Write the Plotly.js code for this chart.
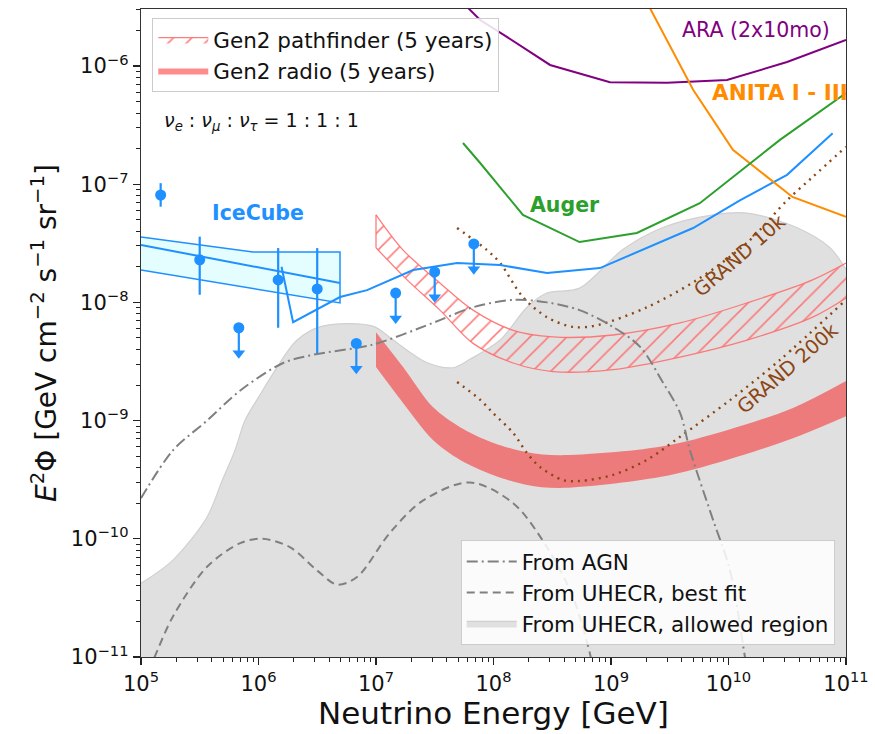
<!DOCTYPE html>
<html>
<head>
<meta charset="utf-8">
<script src="https://cdn.plot.ly/plotly-3.0.1.min.js"></script>
<style>
html,body{margin:0;padding:0;background:#fff;}
#chart{width:875px;height:734px;}
</style>
</head>
<body>
<div id="chart"></div>
<script>
// ---------------- data ----------------
// UHECR allowed region (upper boundary)
const regionE    = [1e5, 1.87e5, 3.65e5, 4.9e5, 6.3e5, 7.7e5, 1.03e6, 1.33e6, 2.13e6, 3.5e6, 9.4e6, 1.4e7, 2.7e7, 4.5e7, 6.3e7, 1.14e8, 1.93e8, 2.85e8, 5.4e8, 1.26e9, 2.77e9, 7.4e9, 1.44e10, 3.8e10, 7.3e10, 1e11];
const regionFlux = [4.2e-11, 6.6e-11, 1.53e-10, 3.1e-10, 5.6e-10, 1.01e-9, 1.65e-9, 2.5e-9, 4.8e-9, 6.3e-9, 6.3e-9, 4.8e-9, 3.1e-9, 2.8e-9, 3.3e-9, 4.8e-9, 9.1e-9, 1.2e-8, 1.32e-8, 2.8e-8, 4.3e-8, 5.5e-8, 5.7e-8, 4.3e-8, 2.9e-8, 1.9e-8];
const REGION_FLOOR = 1e-12;

// From AGN (dash-dot)
const agnE    = [1e5, 1.87e5, 3.65e5, 7.0e5, 1.62e6, 2.9e6, 9.4e6, 3.05e7, 6.7e7, 1.47e8, 2.85e8, 5.4e8, 1.04e9, 1.77e9, 2.77e9, 3.87e9, 4.7e9, 7.4e9, 1.03e10, 1.38e10, 1.5e10];
const agnFlux = [2.2e-10, 5.6e-10, 1.0e-9, 1.8e-9, 3.07e-9, 3.6e-9, 4.4e-9, 6.7e-9, 9.1e-9, 1.05e-8, 1.0e-8, 8.6e-9, 6.2e-9, 4.2e-9, 2.1e-9, 1.16e-9, 5.6e-10, 1.44e-10, 5.4e-11, 1.0e-11, 6e-12];

// From UHECR, best fit (dashed)
const uhecrE    = [1.17e5, 1.27e5, 1.87e5, 3.65e5, 7.0e5, 1.09e6, 1.85e6, 3.15e6, 4.66e6, 6.9e6, 1.31e7, 2.5e7, 6.3e7, 1.47e8, 2.85e8, 4.75e8, 6.6e8, 7e8];
const uhecrFlux = [7.9e-12, 9.4e-12, 2.2e-11, 5.8e-11, 9.2e-11, 1.0e-10, 8.5e-11, 5.4e-11, 4.1e-11, 4.75e-11, 1.12e-10, 2.1e-10, 3.0e-10, 2.0e-10, 8.5e-11, 3.2e-11, 1.08e-11, 8e-12];

// Gen2 pathfinder (5 years) band
const pathUpperE = [1e7, 1.7e7, 3.5e7, 6.7e7, 1.47e8, 3.2e8, 1.04e9, 3.87e9, 1.44e10, 5.2e10, 1e11];
const pathUpper  = [5.5e-8, 2.77e-8, 1.46e-8, 8.6e-9, 5.8e-9, 5.1e-9, 5.3e-9, 6.7e-9, 9.9e-9, 1.55e-8, 2.15e-8];
const pathLowerE = [1e7, 1.84e7, 3.5e7, 6.7e7, 1.47e8, 3.2e8, 1.04e9, 3.87e9, 1.44e10, 5.2e10, 1e11];
const pathLower  = [2.9e-8, 1.55e-8, 8.6e-9, 4.5e-9, 3.07e-9, 2.6e-9, 2.7e-9, 3.45e-9, 4.8e-9, 7.5e-9, 1.09e-8];

// Gen2 radio (5 years) band
const radioE     = [1e7, 1.7e7, 3.05e7, 5.2e7, 9.9e7, 1.93e8, 3.68e8, 2.61e9, 9.7e9, 3.54e10, 1e11];
const radioUpper = [5.6e-9, 2.84e-9, 1.30e-9, 8.8e-10, 6.5e-10, 5.4e-10, 5.1e-10, 6.0e-10, 8.3e-10, 1.28e-9, 2.16e-9];
const radioLower = [2.84e-9, 1.41e-9, 6.85e-10, 4.65e-10, 3.47e-10, 2.85e-10, 2.69e-10, 3.33e-10, 4.65e-10, 7.1e-10, 1.09e-9];

// GRAND
const grand10kE = [4.9e7, 8.8e7, 1.14e8, 1.78e8, 2.85e8, 4.75e8, 7.6e8, 2.02e9, 5.4e9, 1.44e10, 3.15e10, 5.2e10, 1e11];
const grand10k  = [4.26e-8, 2.77e-8, 2.15e-8, 1.11e-8, 7.5e-9, 6.2e-9, 6.4e-9, 9.1e-9, 1.55e-8, 3.2e-8, 7.3e-8, 1.15e-7, 2.07e-7];
const grand200kE = [4.9e7, 7.7e7, 9.9e7, 1.47e8, 1.93e8, 2.49e8, 3.9e8, 5.4e8, 1.04e9, 2.02e9, 3.87e9, 1.03e10, 2.74e10, 1e11];
const grand200k  = [2.12e-9, 1.5e-9, 1.16e-9, 7.85e-10, 5.3e-10, 4.05e-10, 3.14e-10, 3.08e-10, 3.47e-10, 4.65e-10, 7.3e-10, 1.49e-9, 3.26e-9, 1.05e-8];

// IceCube UHE limit
const iceLimitE = [1.57e6, 1.97e6, 4.94e6, 8.4e6, 2.07e7, 4.9e7, 1.14e8, 2.85e8, 8.05e8, 5.0e9, 1.25e10, 3.15e10, 7.7e10];
const iceLimit  = [2.0e-8, 6.8e-9, 1.11e-8, 1.27e-8, 1.88e-8, 2.15e-8, 2.07e-8, 1.77e-8, 1.95e-8, 4.26e-8, 7.3e-8, 1.2e-7, 2.7e-7];

// IceCube segmented fit box and central line
const iceBoxE    = [1e5, 8.98e5, 4.94e6, 4.94e6, 1e5];
const iceBoxFlux = [3.57e-8, 2.67e-8, 2.67e-8, 9.9e-9, 1.88e-8];
const iceFitE    = [1e5, 4.94e6];
const iceFitFlux = [3.06e-8, 1.46e-8];

// IceCube measured points
const iceE    = [1.47e5, 3.16e5, 1.47e6, 3.16e6];
const iceFlux = [8.1e-8, 2.29e-8, 1.55e-8, 1.30e-8];
const iceHi   = [1.02e-7, 3.6e-8, 2.88e-8, 2.88e-8];
const iceLo   = [6.45e-8, 1.16e-8, 6.1e-9, 3.7e-9];

// IceCube upper limits
const ulE    = [6.8e5, 6.8e6, 1.47e7, 3.16e7, 6.8e7];
const ulFlux = [6.1e-9, 4.5e-9, 1.2e-8, 1.81e-8, 3.12e-8];

// ARA, ANITA, Auger
const araE    = [5.7e7, 7.7e7, 1.3e8, 3.03e8, 9.8e8, 3.0e9, 9.7e9, 3.15e10, 1e11];
const araFlux = [3.3e-6, 2.45e-6, 1.76e-6, 1.02e-6, 7.3e-7, 7.2e-7, 7.6e-7, 1.08e-6, 1.66e-6];
const anitaE    = [2.07e9, 5.0e9, 1.09e10, 3.5e10, 1e11];
const anitaFlux = [3.3e-6, 6.3e-7, 1.95e-7, 7.8e-8, 5.3e-8];
const augerE    = [5.5e7, 7.7e7, 1.78e8, 5.4e8, 1.66e9, 5.7e9, 2.74e10, 1e11];
const augerFlux = [2.23e-7, 1.51e-7, 5.5e-8, 3.24e-8, 3.87e-8, 6.9e-8, 2.37e-7, 5.9e-7];

// tick labels
const xTickVals = [1e5, 1e6, 1e7, 1e8, 1e9, 1e10, 1e11];
const xTickText = ['10<sup>5</sup>','10<sup>6</sup>','10<sup>7</sup>','10<sup>8</sup>','10<sup>9</sup>','10<sup>10</sup>','10<sup>11</sup>'];
const yTickVals = [1e-11, 1e-10, 1e-9, 1e-8, 1e-7, 1e-6];
const yTickText = ['10<sup>−11</sup>','10<sup>−10</sup>','10<sup>−9</sup>','10<sup>−8</sup>','10<sup>−7</sup>','10<sup>−6</sup>'];

// ---------------- styles ----------------
const FONT = 'DejaVu Sans, Verdana, sans-serif';
const BLUE = '#1e90ff';
const GRAY = '#808080';
const BROWN = '#8b4513';
const PINK = 'rgba(255,110,110,0.9)';
const ARROW_FACTOR = 0.61;
const SPL = { shape: 'spline', smoothing: 0.9 };

function minorVals(lo, hi) {
  const v = [];
  for (let k = lo; k < hi; k++) for (let m = 2; m <= 9; m++) v.push(m * Math.pow(10, k));
  return v;
}

const traces = [];

// allowed region: floor + upper boundary filled to it
traces.push({
  x: [regionE[0], regionE[regionE.length - 1]], y: [REGION_FLOOR, REGION_FLOOR],
  mode: 'lines', line: { width: 0, color: 'rgba(0,0,0,0)' }, showlegend: false, hoverinfo: 'skip'
});
traces.push({
  x: regionE, y: regionFlux, mode: 'lines', fill: 'tonexty', fillcolor: '#e0e0e0',
  line: Object.assign({ color: '#d0d0d0', width: 1.2 }, SPL),
  name: 'From UHECR, allowed region', legend: 'legend2', legendrank: 3, legendgroup: 'r3',
  hoverinfo: 'skip'
});

// Gen2 radio band
traces.push({
  x: radioE, y: radioLower, mode: 'lines',
  line: Object.assign({ width: 0, color: 'rgba(0,0,0,0)' }, SPL), showlegend: false, hoverinfo: 'skip'
});
traces.push({
  x: radioE, y: radioUpper, mode: 'lines', fill: 'tonexty',
  fillcolor: 'rgba(255,0,0,0.45)', line: Object.assign({ width: 0, color: 'rgba(255,0,0,0.45)' }, SPL),
  name: 'Gen2 radio (5 years)', legend: 'legend', legendrank: 2, legendgroup: 'p2'
});

// Gen2 pathfinder band (hatched)
traces.push({
  x: pathLowerE, y: pathLower, mode: 'lines',
  line: Object.assign({ width: 1.3, color: PINK }, SPL), showlegend: false, hoverinfo: 'skip'
});
traces.push({
  x: pathUpperE, y: pathUpper, mode: 'lines', fill: 'tonexty',
  fillcolor: 'rgba(0,0,0,0)',
  fillpattern: { shape: '/', fgcolor: PINK, bgcolor: 'rgba(0,0,0,0)', size: 13, solidity: 0.12 },
  line: Object.assign({ width: 1.3, color: PINK }, SPL),
  name: 'Gen2 pathfinder (5 years)', legend: 'legend', legendrank: 1, legendgroup: 'p1'
});
traces.push({
  x: [pathUpperE[0], pathLowerE[0]], y: [pathUpper[0], pathLower[0]], mode: 'lines',
  line: { width: 1.3, color: PINK }, showlegend: false, hoverinfo: 'skip'
});

// GRAND lines
traces.push({ x: grand10kE, y: grand10k, mode: 'lines', line: Object.assign({ color: BROWN, width: 2.4, dash: '2px,5px' }, SPL), showlegend: false });
traces.push({ x: grand200kE, y: grand200k, mode: 'lines', line: Object.assign({ color: BROWN, width: 2.4, dash: '2px,5px' }, SPL), showlegend: false });

// AGN
traces.push({
  x: agnE, y: agnFlux, mode: 'lines',
  line: Object.assign({ color: GRAY, width: 2, dash: '11px,4px,2px,4px' }, SPL),
  name: 'From AGN', legend: 'legend2', legendrank: 1, legendgroup: 'r1'
});
// UHECR best fit
traces.push({
  x: uhecrE, y: uhecrFlux, mode: 'lines',
  line: Object.assign({ color: GRAY, width: 2, dash: '8px,5px' }, SPL),
  name: 'From UHECR, best fit', legend: 'legend2', legendrank: 2, legendgroup: 'r2'
});

// IceCube fit box
traces.push({
  x: iceBoxE, y: iceBoxFlux, mode: 'lines', fill: 'toself', fillcolor: 'rgba(225,253,255,0.9)',
  line: { color: BLUE, width: 1.5 }, showlegend: false
});
traces.push({ x: iceFitE, y: iceFitFlux, mode: 'lines', line: { color: BLUE, width: 2 }, showlegend: false });

// IceCube UHE limit line
traces.push({ x: iceLimitE, y: iceLimit, mode: 'lines', line: { color: BLUE, width: 2 }, showlegend: false });

// IceCube data points
traces.push({
  x: iceE, y: iceFlux, mode: 'markers',
  marker: { color: BLUE, size: 11 },
  error_y: {
    type: 'data', symmetric: false,
    array: iceHi.map((h, i) => h - iceFlux[i]),
    arrayminus: iceLo.map((l, i) => iceFlux[i] - l),
    color: BLUE, thickness: 2.2, width: 0
  },
  showlegend: false
});
// upper limits: circle + shaft + arrowhead
traces.push({
  x: ulE, y: ulFlux, mode: 'markers',
  marker: { color: BLUE, size: 11 },
  error_y: {
    type: 'data', symmetric: false,
    array: ulFlux.map(() => 0),
    arrayminus: ulFlux.map(f => f * (1 - ARROW_FACTOR)),
    color: BLUE, thickness: 2.2, width: 0
  },
  showlegend: false
});
traces.push({
  x: ulE, y: ulFlux.map(f => f * ARROW_FACTOR), mode: 'markers',
  marker: { color: BLUE, size: 11, symbol: 'triangle-down' }, showlegend: false
});

// ARA, ANITA, Auger
traces.push({ x: araE, y: araFlux, mode: 'lines', line: { color: '#800080', width: 2 }, showlegend: false });
traces.push({ x: anitaE, y: anitaFlux, mode: 'lines', line: { color: '#ff8c00', width: 2 }, showlegend: false });
traces.push({ x: augerE, y: augerFlux, mode: 'lines', line: { color: '#2ca02c', width: 2 }, showlegend: false });

// ANITA label (clipped at the frame)
const anitaLabel = { E: 7.25e9, F: 5.7e-7 };
traces.push({
  x: [anitaLabel.E], y: [anitaLabel.F], mode: 'text', text: ['<b>ANITA I - III</b>'],
  textposition: 'middle right', textfont: { family: FONT, size: 21.5, color: '#ff8c00' },
  cliponaxis: true, showlegend: false, hoverinfo: 'skip'
});

// label positions (E, flux)
const labels = [
  { E: 9.9e5, F: 5.7e-8, text: '<b>IceCube</b>', color: BLUE, size: 20.5, angle: 0 },
  { E: 4.07e8, F: 6.7e-8, text: '<b>Auger</b>', color: '#2ca02c', size: 20.5, angle: 0 },
  { E: 1.72e10, F: 2.02e-6, text: 'ARA (2x10mo)', color: '#800080', size: 20.5, angle: 0 },
  { E: 1.25e10, F: 2.5e-8, text: 'GRAND 10k', color: BROWN, size: 19.5, angle: -41 },
  { E: 3.2e10, F: 2.75e-9, text: 'GRAND 200k', color: BROWN, size: 19.5, angle: -41 }
];
const annotations = labels.map(l => ({
  x: Math.log10(l.E), y: Math.log10(l.F), xref: 'x', yref: 'y',
  text: l.text, showarrow: false, textangle: l.angle,
  font: { family: FONT, size: l.size, color: l.color }
}));
annotations.push({
  x: Math.log10(1.5e5), y: Math.log10(3.36e-7), xref: 'x', yref: 'y', xanchor: 'left',
  text: '<i>ν</i><sub><i>e</i></sub> : <i>ν</i><sub><i>μ</i></sub> : <i>ν</i><sub><i>τ</i></sub> = 1 : 1 : 1',
  showarrow: false, font: { family: FONT, size: 19, color: '#111' }
});

const layout = {
  width: 875, height: 734,
  margin: { l: 141, r: 29, t: 9, b: 77 },
  paper_bgcolor: '#fff', plot_bgcolor: '#fff',
  font: { family: FONT, color: '#111', size: 20 },
  showlegend: true,
  xaxis: {
    type: 'log', range: [5, 11],
    tickvals: xTickVals, ticktext: xTickText,
    ticks: 'outside', ticklen: 7, tickwidth: 1.2, tickcolor: '#222',
    tickfont: { family: FONT, size: 21, color: '#111' },
    showline: true, mirror: true, linecolor: '#333', linewidth: 1.3,
    showgrid: false, zeroline: false,
    minor: { tickvals: minorVals(5, 11), ticks: 'outside', ticklen: 4, tickwidth: 1, tickcolor: '#222', showgrid: false },
    title: { text: 'Neutrino Energy [GeV]', font: { family: FONT, size: 31, color: '#111' }, standoff: 2 }
  },
  yaxis: {
    type: 'log', range: [-11, -5.518],
    tickvals: yTickVals, ticktext: yTickText,
    ticks: 'outside', ticklen: 7, tickwidth: 1.2, tickcolor: '#222',
    tickfont: { family: FONT, size: 21, color: '#111' },
    showline: true, mirror: true, linecolor: '#333', linewidth: 1.3,
    showgrid: false, zeroline: false,
    minor: { tickvals: minorVals(-12, -5), ticks: 'outside', ticklen: 4, tickwidth: 1, tickcolor: '#222', showgrid: false },
    title: { text: '<i>E</i><sup>2</sup>Φ [GeV cm<sup>−2</sup> s<sup>−1</sup> sr<sup>−1</sup>]', font: { family: FONT, size: 28, color: '#111' }, standoff: 6 }
  },
  legend: {
    x: 0.016, y: 0.986, xanchor: 'left', yanchor: 'top',
    bgcolor: 'rgba(255,255,255,0.85)', bordercolor: '#cccccc', borderwidth: 1,
    font: { family: FONT, size: 21.5, color: '#111' }, tracegroupgap: 5, traceorder: 'normal',
    itemwidth: 50
  },
  legend2: {
    x: 0.984, y: 0.0185, xanchor: 'right', yanchor: 'bottom',
    bgcolor: 'rgba(255,255,255,0.85)', bordercolor: '#cccccc', borderwidth: 1,
    font: { family: FONT, size: 21.5, color: '#111' }, tracegroupgap: 5, traceorder: 'normal',
    itemwidth: 50
  },
  annotations: annotations
};

Plotly.newPlot('chart', traces, layout, { displayModeBar: false, staticPlot: true });
</script>
</body>
</html>
